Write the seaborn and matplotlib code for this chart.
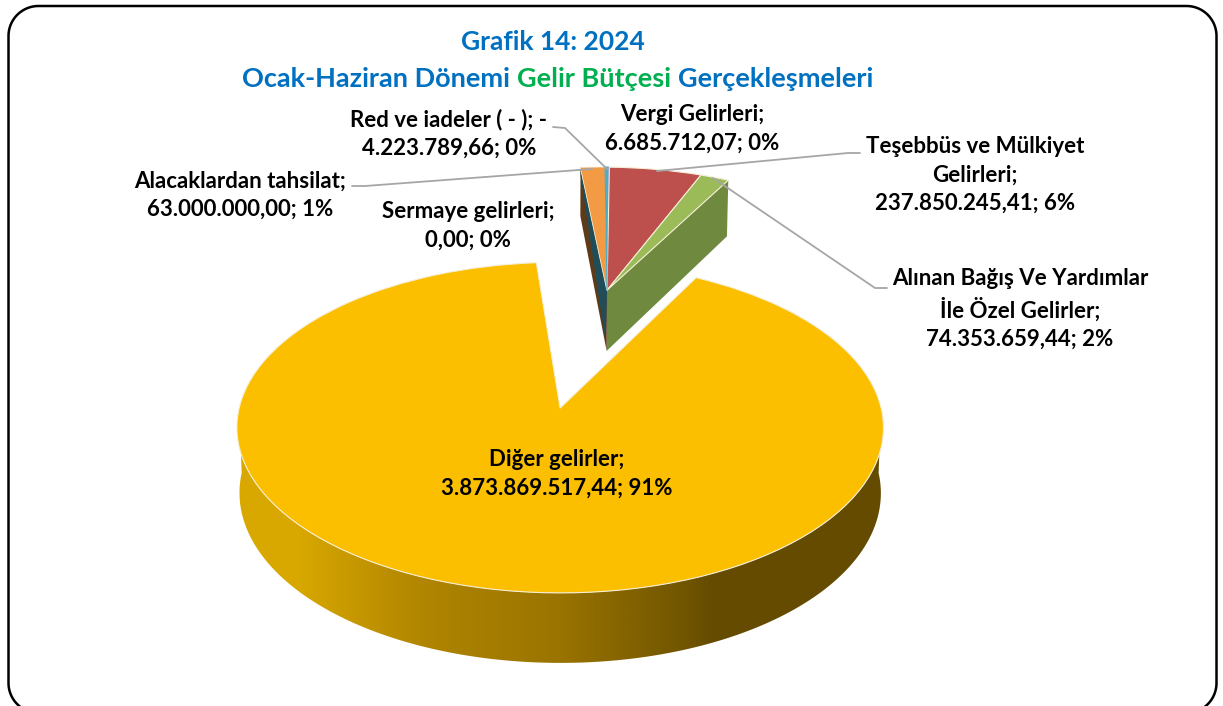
import numpy as np
import matplotlib
matplotlib.use('Agg')
import matplotlib.pyplot as plt
import matplotlib.transforms as mtrans
from matplotlib.patches import Polygon
import seaborn as sns

sns.set_theme(style='white')
plt.rcParams['font.family'] = ['Lato', 'DejaVu Sans']

# veri
labels = ['Vergi Gelirleri;', 'Teşebbüs ve Mülkiyet\nGelirleri;',
          'Alınan Bağış Ve Yardımlar\nİle Özel Gelirler;', 'Diğer gelirler;',
          'Sermaye gelirleri;', 'Alacaklardan tahsilat;', 'Red ve iadeler ( - ); -']
values = [6685712.07, 237850245.41, 74353659.44, 3873869517.44, 0.0, 63000000.0, 4223789.66]
value_text = ['6.685.712,07', '237.850.245,41', '74.353.659,44', '3.873.869.517,44',
              '0,00', '63.000.000,00', '4.223.789,66']
percents = ['0%', '6%', '2%', '91%', '0%', '1%', '0%']
colors = ['#6f9bd1', '#bd4f4c', '#9bbb59', '#fbbf00', '#7f60a0', '#f39a45', '#4bacc6']
explode = [0, 0, 0, 0.807, 0, 0, 0]

label_xy = [(692, 129), (975, 175), (1020, 309), (557, 474), (468, 226), (240, 195), (449, 134)]
leaders = [None,
           [(860, 153), (848, 153), (657, 171)],
           [(887, 288), (875, 288), (713, 178)],
           None, None,
           [(352, 186), (365, 186), (592, 169)],
           [(553, 127), (565, 128), (607, 169)]]


class Persp(mtrans.Transform):
    # pasta duzlemi -> piksel (perspektif)
    input_dims = 2
    output_dims = 2
    is_separable = False
    has_inverse = False

    def transform_non_affine(self, xy):
        xy = np.asarray(xy, dtype=float)
        u = xy[:, 0] + 0.16
        v = xy[:, 1] + 0.79
        w = 1 + 0.118 * v
        return np.column_stack([557 + 321 * u / w, 408 - 163 * v / w])


persp = Persp()


def lower(xy):
    # ayni noktalarin taban yuzeyi
    xy = np.atleast_2d(xy)
    p = persp.transform_non_affine(xy)
    w = 1 + 0.118 * (xy[:, 1] + 0.79)
    p[:, 0] = 560 + (p[:, 0] - 560) * 0.992
    p[:, 1] += 70 - 44 * (w - 0.882)
    return p


def rim(wedge, deg):
    a = np.radians(np.atleast_1d(deg))
    cx, cy = wedge.center
    return np.column_stack([cx + wedge.r * np.cos(a), cy + wedge.r * np.sin(a)])


fig = plt.figure(figsize=(12.23, 7.06), dpi=100)
ax = fig.add_axes([0, 0, 1, 1])

wedges, _ = ax.pie(values, colors=colors, explode=explode, startangle=89, counterclock=False,
                   wedgeprops=dict(edgecolor='#f6efd8', linewidth=0.8, zorder=5))
for i, w in enumerate(wedges):
    w.set_transform(persp + ax.transData)
    # kucuk kaydirmalar: kume 3 piksel, sari dilim 4 piksel saga
    shift = 0.0125 if i == 3 else 0.0103
    w.set_center((w.center[0] + shift, w.center[1]))
wedges[0].set_edgecolor(colors[0])
wedges[5].set_linewidth(0.3)
wedges[6].set_edgecolor(colors[6])

ax.set_aspect('auto')
ax.set_xlim(0, 1223)
ax.set_ylim(706, 0)
ax.axis('off')

# yesil dilimin sag yuzu
g = wedges[2]
g_rim = rim(g, g.theta1)
g_pts = np.vstack([[g.center], g_rim])
ax.add_patch(Polygon(np.vstack([persp.transform_non_affine(g_pts), lower(g_pts)[::-1]]),
                     closed=True, fc='#6f8a3e', ec='none', zorder=2))

# turuncu dilimin sol yuzu
o = wedges[5]
o_pts = np.vstack([rim(o, o.theta2), [o.center]])
top_o = persp.transform_non_affine(o_pts)
low_o = lower(o_pts)
low_o[0, 1] -= 7
ax.add_patch(Polygon(np.vstack([top_o, low_o[::-1]]), closed=True, fc='#5d3a1a', ec='none', zorder=2))
teal = np.vstack([top_o, low_o[1] + [-1, -10], top_o[0] + [0, 8]])
ax.add_patch(Polygon(teal, closed=True, fc='#1f4e5a', ec='none', zorder=2.5))

# sari dilimin on yuzu, gradyan
y = wedges[3]
deg = np.linspace(180, 360, 181)
y_rim = rim(y, deg)
wall = np.vstack([persp.transform_non_affine(y_rim), lower(y_rim)[::-1]])
wall_cmap = sns.blend_palette(['#d9a800', '#b98c00', '#9a7400', '#644b00', '#644b00'], as_cmap=True)
img = ax.imshow(np.array([[0, 0.33, 0.5, 0.7, 1.0]]), cmap=wall_cmap, aspect='auto', interpolation='bilinear',
                extent=(230, 890, 700, 400), vmin=0, vmax=1, zorder=2)
img.set_clip_path(Polygon(wall, closed=True, transform=ax.transData))
ax.set_xlim(0, 1223)
ax.set_ylim(706, 0)

# cerceve
left, right, top, bottom, rad = 8.5, 1216.5, 6, 713, 30
t = np.linspace(0, np.pi / 2, 30)
fx = np.concatenate([left + rad - rad * np.cos(t), right - rad + rad * np.sin(t),
                     right - rad + rad * np.cos(t), left + rad - rad * np.sin(t), [left]])
fy = np.concatenate([top + rad - rad * np.sin(t), top + rad - rad * np.cos(t),
                     bottom - rad + rad * np.sin(t), bottom - rad + rad * np.cos(t), [top + rad]])
ax.plot(fx, fy, color='black', lw=1.8, zorder=1, solid_capstyle='butt')

# kilavuz cizgiler
for pts in leaders:
    if pts is not None:
        ax.plot(*zip(*pts), color='#a6a6a6', lw=1.3, zorder=6)

# etiketler
for name, vt, pct, (lx, ly) in zip(labels, value_text, percents, label_xy):
    ax.text(lx, ly, f'{name}\n{vt}; {pct}', ha='center', va='center', fontsize=16,
            fontweight='bold', color='black', linespacing=1.42, zorder=7)

# baslik
blue = '#0070c0'
green = '#00b050'
ax.text(553, 42, 'Grafik 14: 2024', ha='center', va='center', fontsize=19, fontweight='bold', color=blue)
parts = [('Ocak-Haziran Dönemi', blue), ('Gelir Bütçesi', green), ('Gerçekleşmeleri', blue)]
renderer = fig.canvas.get_renderer()
texts = [ax.text(0, 87, s, color=c, fontsize=19.5, fontweight='bold', va='baseline') for s, c in parts]
widths = [t_.get_window_extent(renderer).width for t_ in texts]
gap = 7
x = 558 - (sum(widths) + 2 * gap) / 2
for t_, wd in zip(texts, widths):
    t_.set_x(x)
    x += wd + gap

fig.savefig('out.png', dpi=100)
